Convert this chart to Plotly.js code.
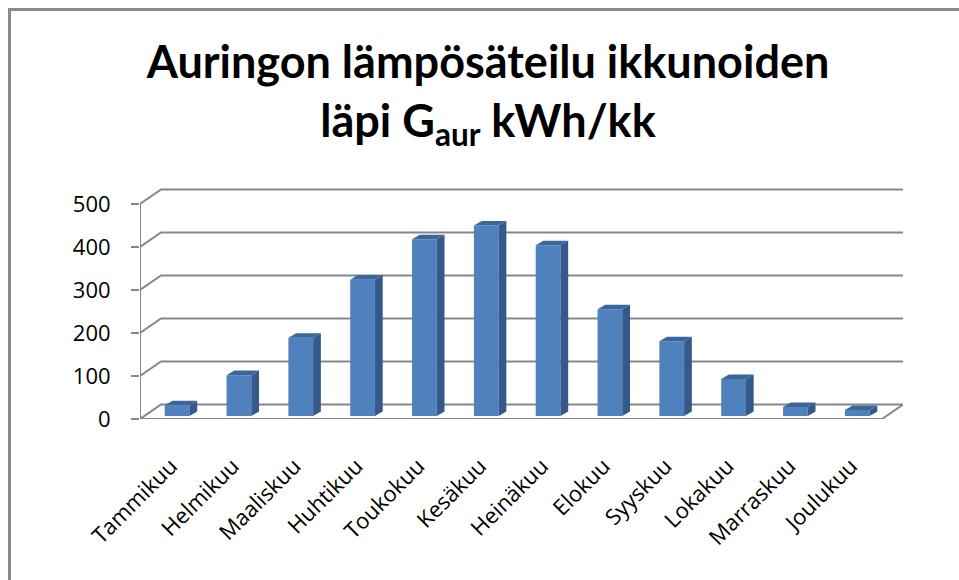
<!DOCTYPE html>
<html>
<head>
<meta charset="utf-8">
<script src="https://cdn.plot.ly/plotly-3.0.1.min.js"></script>
<style>
html, body { margin: 0; padding: 0; background: #fff; }
#wrap { position: relative; width: 959px; height: 580px; overflow: hidden; }
#frame { position: absolute; left: 8px; top: 8px; right: -10px; bottom: -10px;
    border-left: 3px solid #8a8a8a; border-top: 3px solid #8a8a8a; pointer-events: none; }
</style>
</head>
<body>
<div id="wrap">
<div id="chart" style="width:959px;height:580px"></div>
<div id="frame"></div>
</div>
<script>
const months = ['Tammikuu', 'Helmikuu', 'Maaliskuu', 'Huhtikuu', 'Toukokuu', 'Kesäkuu',
    'Heinäkuu', 'Elokuu', 'Syyskuu', 'Lokakuu', 'Marraskuu', 'Joulukuu'];
const gains = [25, 95, 182, 317, 411, 443, 397, 248, 174, 86, 21, 14];
const yTicks = [0, 100, 200, 300, 400, 500];

// fake 3D look, all in axis units
const wallDx = 0.34, wallDy = 33.7;   // how far the back wall sits behind the front axis
const barW = 0.4, barShift = 0.1, barBase = 7;
const sideDx = 0.125, sideDy = 10.5;

const frontCol = '#4F81BD', sideCol = '#35598a', topCol = '#3c659b';
const lineCol = '#878787';
const font = 'Open Sans, sans-serif';

const ml = 140, mr = 56, mt = 185, mb = 161;
const W = 959, H = 580;

let idx = months.map((m, i) => i);

let sideX = [], sideY = [], topX = [], topY = [];
for (let i = 0; i < gains.length; i++) {
    let xl = i + barShift - barW / 2;
    let xr = i + barShift + barW / 2;
    let yt = barBase + gains[i];
    sideX.push(xr, xr + sideDx, xr + sideDx, xr, null);
    sideY.push(barBase, barBase + sideDy, yt + sideDy, yt, null);
    topX.push(xl, xr, xr + sideDx, xl + sideDx, null);
    topY.push(yt, yt, yt + sideDy, yt + sideDy, null);
}

let data = [
    {
        type: 'bar',
        x: idx.map(i => i + barShift),
        y: gains,
        base: barBase,
        width: barW,
        marker: { color: frontCol, line: { width: 0 } },
        hoverinfo: 'skip'
    },
    {
        type: 'scatter', mode: 'lines', x: sideX, y: sideY,
        fill: 'toself', fillcolor: sideCol, line: { width: 0 }, hoverinfo: 'skip'
    },
    {
        type: 'scatter', mode: 'lines', x: topX, y: topY,
        fill: 'toself', fillcolor: topCol, line: { width: 0 }, hoverinfo: 'skip'
    }
];

const xEnd = months.length - 0.5;
let shapes = [];
let gline = { color: lineCol, width: 2 };

// back wall gridlines, bent at the left wall
for (const t of yTicks) {
    shapes.push({
        type: 'path', xref: 'x', yref: 'y', layer: 'below', line: gline,
        path: `M -0.5,${t} L ${-0.5 + wallDx},${t + wallDy} L ${xEnd + wallDx},${t + wallDy}`
    });
}
// front value axis
shapes.push({ type: 'line', xref: 'x', yref: 'y', layer: 'below', line: gline,
    x0: -0.5, x1: -0.5, y0: 0, y1: 500 });
// floor front edge + right slant
shapes.push({ type: 'line', xref: 'x', yref: 'y', layer: 'below', line: gline,
    x0: -0.5, x1: xEnd, y0: 0, y1: 0 });
shapes.push({ type: 'line', xref: 'x', yref: 'y', layer: 'below', line: gline,
    x0: xEnd, x1: xEnd + wallDx, y0: 0, y1: wallDy });
// category tick marks between months
for (let k = 0; k <= months.length; k++) {
    shapes.push({ type: 'line', xref: 'x', yref: 'y', layer: 'below', line: gline,
        ysizemode: 'pixel', yanchor: 0,
        x0: k - 0.5, x1: k - 0.5, y0: 0, y1: -9 });
}

let layout = {
    width: W, height: H,
    margin: { l: ml, r: mr, t: mt, b: mb },
    paper_bgcolor: '#fff', plot_bgcolor: 'rgba(0,0,0,0)',
    showlegend: false,
    title: {
        text: 'Auringon lämpösäteilu ikkunoiden<br>läpi G<sub>aur</sub> kWh/kk',
        font: { family: 'Lato, sans-serif', size: 45, color: '#000', weight: 'bold' },
        x: 488 / W, xanchor: 'center', xref: 'container',
        y: 1 - 78 / H, yanchor: 'top', yref: 'container'
    },
    xaxis: {
        range: [-0.5, xEnd + wallDx],
        tickvals: idx, ticktext: months, tickangle: -45,
        ticks: '', showgrid: false, zeroline: false, showline: false,
        tickfont: { family: font, size: 22, color: '#000' },
        ticklabelstandoff: 29, fixedrange: true
    },
    yaxis: {
        range: [0, 544],
        tickvals: yTicks,
        ticks: 'outside', ticklen: 8, tickwidth: 2, tickcolor: lineCol,
        showgrid: false, zeroline: false, showline: false,
        tickfont: { family: font, size: 22, color: '#000' },
        ticklabelstandoff: 16, fixedrange: true
    },
    shapes: shapes
};

Plotly.newPlot('chart', data, layout, { displayModeBar: false, staticPlot: true });
</script>
</body>
</html>
